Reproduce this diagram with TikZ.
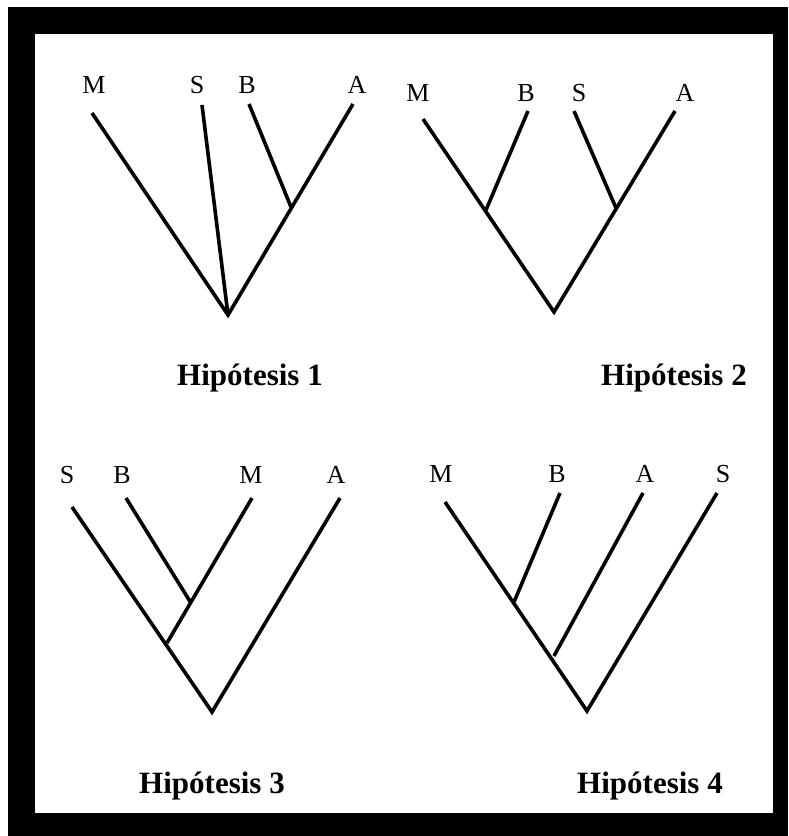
\documentclass[tikz,border=0pt]{standalone}
\usepackage{fontspec}
\setmainfont{Liberation Serif}
\begin{document}
\begin{tikzpicture}[x=1pt,y=-1pt,
  branch/.style={line width=3.6pt},
  taxon/.style={anchor=base,inner sep=0pt,font=\fontsize{26}{28}\selectfont},
  title/.style={anchor=base,inner sep=0pt,font=\fontsize{31}{33}\selectfont\bfseries}]
\useasboundingbox (0,0) rectangle (788,836);
\fill[white] (0,0) rectangle (788,836);
\fill[black] (8,7) rectangle (788,836);
\fill[white] (35,34) rectangle (773,813);
% Tree 1
\node[taxon] (m1) at (94,93) {M};
\node[taxon] (s1) at (197,93) {S};
\node[taxon] (b1) at (247,93) {B};
\node[taxon] (a1) at (357,93) {A};
\coordinate (tm1) at (92,113);
\coordinate (ts1) at (202,105);
\coordinate (tb1) at (249,104);
\coordinate (ta1) at (353,104);
\coordinate (j1) at (291,207);
\coordinate (r1) at (228,315);
\draw[branch] (tm1) -- (r1) -- (ta1);
\draw[branch] (ts1) -- (r1);
\draw[branch] (tb1) -- (j1);
\node[title] (h1) at (250,385) {Hipótesis 1};
% Tree 2
\node[taxon] (m2) at (418,101) {M};
\node[taxon] (b2) at (526,101) {B};
\node[taxon] (s2) at (579,101) {S};
\node[taxon] (a2) at (685,101) {A};
\coordinate (tm2) at (423,119);
\coordinate (tb2) at (528,111);
\coordinate (ts2) at (574,111);
\coordinate (ta2) at (675,111);
\coordinate (jl2) at (486,210);
\coordinate (jr2) at (616,208);
\coordinate (r2) at (554,312);
\draw[branch] (tm2) -- (r2) -- (ta2);
\draw[branch] (tb2) -- (jl2);
\draw[branch] (ts2) -- (jr2);
\node[title] (h2) at (674,385) {Hipótesis 2};
% Tree 3
\node[taxon] (s3) at (67,483) {S};
\node[taxon] (b3) at (122,483) {B};
\node[taxon] (m3) at (251,483) {M};
\node[taxon] (a3) at (336,483) {A};
\coordinate (ts3) at (72,507);
\coordinate (tb3) at (126,498);
\coordinate (tm3) at (252,498);
\coordinate (ta3) at (340,498);
\coordinate (jb3) at (191,603);
\coordinate (js3) at (167,643);
\coordinate (r3) at (212,712);
\draw[branch] (ts3) -- (r3) -- (ta3);
\draw[branch] (tm3) -- (js3);
\draw[branch] (tb3) -- (jb3);
\node[title] (h3) at (212,793) {Hipótesis 3};
% Tree 4
\node[taxon] (m4) at (441,482) {M};
\node[taxon] (b4) at (557,482) {B};
\node[taxon] (a4) at (645,482) {A};
\node[taxon] (s4) at (723,482) {S};
\coordinate (tm4) at (445,502);
\coordinate (tb4) at (560,493);
\coordinate (ta4) at (643,493);
\coordinate (ts4) at (717,493);
\coordinate (jb4) at (514,602);
\coordinate (ja4) at (554,656);
\coordinate (r4) at (587,711);
\draw[branch] (tm4) -- (r4) -- (ts4);
\draw[branch] (tb4) -- (jb4);
\draw[branch] (ta4) -- (ja4);
\node[title] (h4) at (650,793) {Hipótesis 4};
\end{tikzpicture}
\end{document}
